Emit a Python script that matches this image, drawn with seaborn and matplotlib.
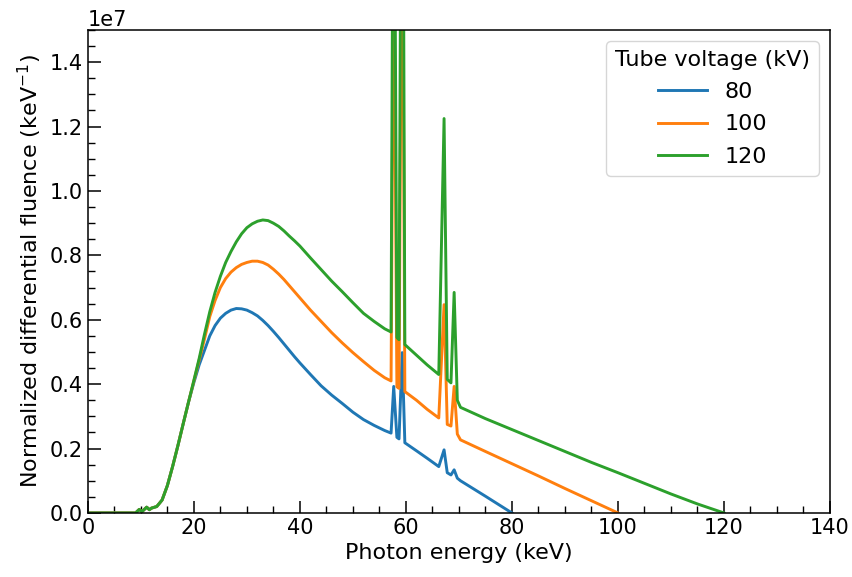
import matplotlib
matplotlib.use("Agg")
import matplotlib.pyplot as plt
from matplotlib.ticker import MultipleLocator
import pandas as pd
import seaborn as sns

# photon energy grid (keV)
energy = [0, 9, 9.7, 10.2, 11.1, 11.6, 12,
          13, 14, 15, 16, 17, 18, 19, 20, 21, 22, 23,
          24, 25, 26, 27, 28, 29, 30, 31, 32, 33, 34, 35, 36, 37, 38, 39, 40,
          42, 44, 46, 48, 50, 52, 54, 56,
          57.2, 57.7, 58.3, 58.7, 59.3, 59.8,
          62, 64, 66.2, 67.2, 67.8, 68.5, 69.1, 69.7, 70.3,
          75, 80, 85, 90, 95, 100, 105, 110, 115, 120]

# fluence values in units of 1e6 keV^-1
fluence_80 = [0, 0, 0.11, 0.04, 0.18, 0.10, 0.15,
              0.20, 0.40, 0.85, 1.45, 2.10, 2.78, 3.45, 4.05, 4.60, 5.05, 5.50,
              5.82, 6.05, 6.20, 6.30, 6.35, 6.34, 6.30, 6.22, 6.12, 5.98, 5.82, 5.64,
              5.45, 5.25, 5.05, 4.85, 4.66,
              4.30, 3.95, 3.66, 3.40, 3.13, 2.90, 2.72, 2.56,
              2.48, 3.93, 2.35, 2.30, 4.98, 2.18,
              1.93, 1.70, 1.44, 1.96, 1.25, 1.18, 1.34, 1.08, 1.00,
              0.52, 0]
fluence_100 = [0, 0, 0.11, 0.04, 0.18, 0.10, 0.15,
               0.20, 0.40, 0.85, 1.45, 2.10, 2.78, 3.45, 4.10, 4.75, 5.40, 6.10,
               6.60, 7.00, 7.28, 7.48, 7.62, 7.72, 7.78, 7.82, 7.82, 7.78, 7.70, 7.57,
               7.42, 7.25, 7.06, 6.87, 6.68,
               6.30, 5.95, 5.60, 5.28, 4.98, 4.70, 4.43, 4.20,
               4.10, 18.0, 3.92, 3.87, 21.0, 3.77,
               3.50, 3.22, 2.95, 6.47, 2.75, 2.70, 3.93, 2.45, 2.27,
               1.91, 1.53, 1.15, 0.76, 0.38, 0]
fluence_120 = [0, 0, 0.11, 0.04, 0.18, 0.10, 0.15,
               0.20, 0.40, 0.85, 1.45, 2.10, 2.78, 3.45, 4.12, 4.80, 5.55, 6.25,
               6.85, 7.35, 7.78, 8.12, 8.42, 8.67, 8.86, 8.98, 9.06, 9.10, 9.08, 9.00,
               8.90, 8.76, 8.60, 8.45, 8.29,
               7.92, 7.56, 7.20, 6.87, 6.53, 6.20, 5.95, 5.72,
               5.62, 25.0, 5.45, 5.38, 29.0, 5.23,
               4.90, 4.60, 4.30, 12.25, 4.15, 4.04, 6.85, 3.50, 3.28,
               2.93, 2.59, 2.25, 1.91, 1.57, 1.25, 0.92, 0.59, 0.28, 0]

voltages = ["80", "100", "120"]
series = [fluence_80, fluence_100, fluence_120]

rows = []
for kv, vals in zip(voltages, series):
    for e, v in zip(energy, vals):
        rows.append({"energy": e, "fluence": v * 1e6, "kV": kv})
df = pd.DataFrame(rows)

plt.rcParams["font.family"] = ["DejaVu Sans"]
plt.rcParams["font.size"] = 15

fig = plt.figure(figsize=(8.53, 5.77), dpi=100)
ax = fig.add_axes([0.103, 0.111, 0.870, 0.837])

sns.lineplot(data=df, x="energy", y="fluence", hue="kV", hue_order=voltages,
             palette=["#1f77b4", "#ff7f0e", "#2ca02c"], linewidth=2.1,
             sort=False, estimator=None, ax=ax)

ax.set_xlim(0, 140)
ax.set_ylim(0, 1.5e7)
ax.xaxis.set_major_locator(MultipleLocator(20))
ax.xaxis.set_minor_locator(MultipleLocator(5))
ax.yaxis.set_major_locator(MultipleLocator(0.2e7))
ax.yaxis.set_minor_locator(MultipleLocator(0.05e7))
ax.tick_params(which="major", direction="in", length=9, width=1.1, labelsize=15)
ax.tick_params(which="minor", direction="in", length=5, width=1.0)
for s in ax.spines.values():
    s.set_linewidth(1.1)

ax.set_xlabel("Photon energy (keV)", fontsize=16)
ax.set_ylabel("Normalized differential fluence (keV$^{-1}$)", fontsize=16)
ax.legend(title="Tube voltage (kV)", loc="upper right", fontsize=16,
          title_fontsize=16, handlelength=2.2, labelspacing=0.55)

fig.savefig("out.png", dpi=100)
